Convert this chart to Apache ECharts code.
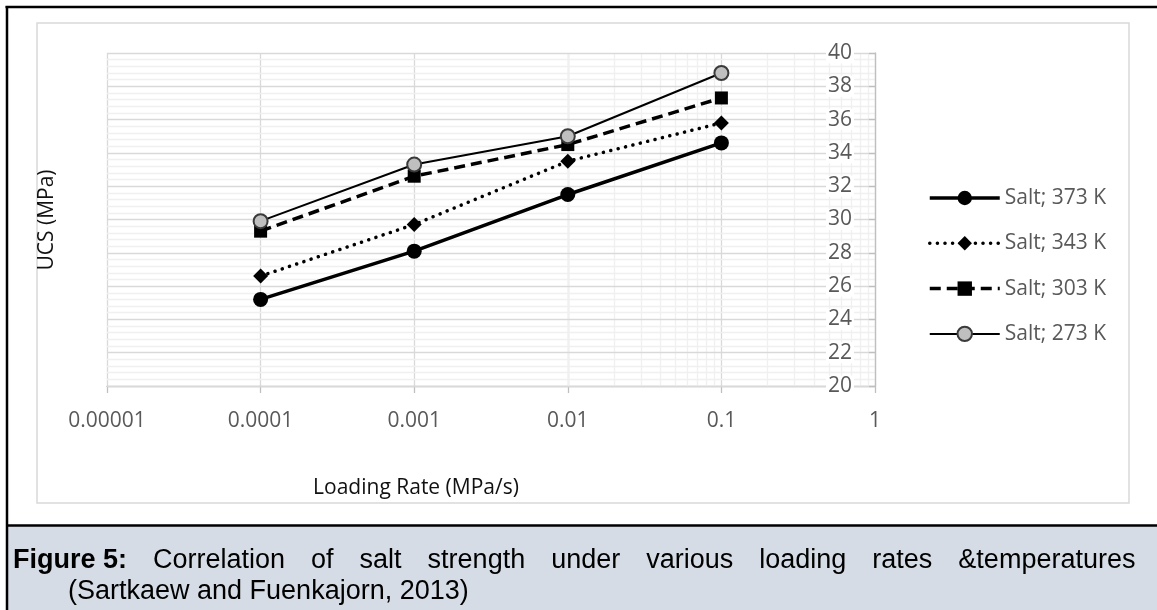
<!DOCTYPE html>
<html>
<head>
<meta charset="utf-8">
<title>UCS of salt vs loading rate</title>
<script src="https://cdn.jsdelivr.net/npm/echarts@6/dist/echarts.min.js"></script>
<style>
  html, body { margin: 0; padding: 0; background: #fff; }
  #chart { width: 1157px; height: 610px; }
</style>
</head>
<body>
<div id="chart"></div>
<script>
// Loading rates (MPa/s) at which the specimens were tested
const loadingRates = [0.0001, 0.001, 0.01, 0.1];

// Uniaxial compressive strength (MPa) per test temperature
const ucs373K = [25.2, 28.1, 31.5, 34.6];
const ucs343K = [26.6, 29.7, 33.5, 35.8];
const ucs303K = [29.3, 32.6, 34.5, 37.3];
const ucs273K = [29.9, 33.3, 35.0, 38.8];

const seriesNames = ['Salt; 373 K', 'Salt; 343 K', 'Salt; 303 K', 'Salt; 273 K'];

// Axis tick labels
const xTickLabels = ['0.00001', '0.0001', '0.001', '0.01', '0.1', '1'];

// Caption words (first line is set justified, second line plain)
const captionLead = 'Figure 5:';
const captionWords = ['Correlation', 'of', 'salt', 'strength', 'under', 'various', 'loading', 'rates', '&temperatures'];
const captionLine2 = '(Sartkaew and Fuenkajorn, 2013)';

const FONT = '"Open Sans", "Noto Sans", sans-serif';
const CAPTION_FONT = '"Liberation Sans", Arial, sans-serif';

// Logarithmic minor gridline positions (2..9 within each decade)
const minorX = [];
for (let d = -5; d <= -1; d++) {
  for (let k = 2; k <= 9; k++) minorX.push(k * Math.pow(10, d));
}

function pairs(ys) {
  return loadingRates.map((x, i) => [x, ys[i]]);
}

const chart = echarts.init(document.getElementById('chart'), null, { renderer: 'canvas' });

chart.setOption({
  backgroundColor: '#ffffff',
  animation: false,
  textStyle: { fontFamily: FONT },
  grid: { left: 107, top: 53, width: 768, height: 333 },
  xAxis: {
    type: 'log',
    logBase: 10,
    min: 0.00001,
    max: 1,
    z: 0,
    axisLine: { lineStyle: { color: '#bfbfbf', width: 1.3 } },
    axisTick: { show: true, length: 7, lineStyle: { color: '#bfbfbf', width: 1.3 } },
    axisLabel: {
      color: '#595959',
      fontSize: 21,
      fontFamily: FONT,
      margin: 25,
      formatter: (v, i) => xTickLabels[i]
    },
    splitLine: { show: true, lineStyle: { color: '#d9d9d9', width: 1.3 } }
  },
  yAxis: {
    type: 'value',
    position: 'right',
    min: 20,
    max: 40,
    interval: 2,
    z: 2,
    axisLine: { show: true, lineStyle: { color: '#bfbfbf', width: 1.3 } },
    axisTick: { show: true, inside: true, length: 6, lineStyle: { color: '#bfbfbf', width: 1.3 } },
    axisLabel: {
      inside: true,
      color: '#595959',
      fontSize: 21,
      fontFamily: FONT,
      margin: 21,
      backgroundColor: '#ffffff',
      padding: [0, 2, 0, 2]
    },
    splitLine: { show: true, lineStyle: { color: '#d9d9d9', width: 1.3 } },
    minorTick: { show: false, splitNumber: 5 },
    minorSplitLine: { show: true, lineStyle: { color: '#f0f0f0', width: 1.3 } }
  },
  legend: {
    orient: 'vertical',
    left: 923,
    top: 182,
    itemWidth: 70,
    itemHeight: 18,
    itemGap: 23.3,
    lineStyle: { width: 'inherit', type: 'inherit' },
    textStyle: { color: '#595959', fontSize: 21, fontFamily: FONT, lineHeight: 22 },
    data: seriesNames
  },
  series: [
    {
      // vertical minor gridlines of the log axis
      type: 'line',
      data: [],
      silent: true,
      markLine: {
        silent: true,
        z: 1,
        symbol: ['none', 'none'],
        label: { show: false },
        lineStyle: { color: '#f0f0f0', width: 1.3, type: 'solid' },
        data: minorX.map(v => ({ xAxis: v }))
      }
    },
    {
      name: seriesNames[0],
      type: 'line',
      z: 5,
      data: pairs(ucs373K),
      symbol: 'circle',
      symbolSize: 15,
      lineStyle: { color: '#000', width: 3.5 },
      itemStyle: { color: '#000', borderColor: '#000', borderWidth: 0 }
    },
    {
      name: seriesNames[1],
      type: 'line',
      z: 4,
      data: pairs(ucs343K),
      symbol: 'diamond',
      symbolSize: 15,
      lineStyle: { color: '#000', width: 3.5, type: [0.1, 7.5], cap: 'round' },
      itemStyle: { color: '#000', borderWidth: 0 }
    },
    {
      name: seriesNames[2],
      type: 'line',
      z: 3,
      data: pairs(ucs303K),
      symbol: 'rect',
      symbolSize: 13,
      lineStyle: { color: '#000', width: 3.5, type: [11, 6] },
      itemStyle: { color: '#000', borderWidth: 0 }
    },
    {
      name: seriesNames[3],
      type: 'line',
      z: 6,
      data: pairs(ucs273K),
      symbol: 'circle',
      symbolSize: 14,
      lineStyle: { color: '#000', width: 2 },
      itemStyle: { color: '#bfbfbf', borderColor: '#3a3a3a', borderWidth: 2 }
    }
  ],
  graphic: [
    // chart area frame
    {
      type: 'rect', z: -1, silent: true,
      shape: { x: 37, y: 23, width: 1092, height: 480 },
      style: { fill: null, stroke: '#d9d9d9', lineWidth: 1.5 }
    },
    // axis titles
    {
      type: 'text', silent: true,
      x: 47, y: 220, rotation: Math.PI / 2,
      style: {
        text: 'UCS (MPa)', fill: '#111', font: '21px ' + FONT,
        align: 'center', verticalAlign: 'middle'
      }
    },
    {
      type: 'text', silent: true,
      x: 416, y: 488,
      style: {
        text: 'Loading Rate (MPa/s)', fill: '#111', font: '21px ' + FONT,
        align: 'center', verticalAlign: 'middle'
      }
    },
    // caption panel
    {
      type: 'rect', silent: true,
      shape: { x: 7, y: 525, width: 1150, height: 85 },
      style: { fill: '#d6dce5' }
    },
    {
      type: 'line', silent: true,
      shape: { x1: 6, y1: 525.5, x2: 1157, y2: 525.5 },
      style: { stroke: '#000', lineWidth: 2.5 }
    },
    {
      type: 'line', silent: true,
      shape: { x1: 5.5, y1: 7, x2: 1157, y2: 7 },
      style: { stroke: '#000', lineWidth: 2.5 }
    },
    {
      type: 'line', silent: true,
      shape: { x1: 7, y1: 6, x2: 7, y2: 610 },
      style: { stroke: '#000', lineWidth: 2.5 }
    },
    {
      type: 'text', silent: true,
      x: 13, y: 561,
      style: {
        text: '{b|' + captionLead + '}{s| }' +
          captionWords.map(w => '{n|' + w + '}').join('{s| }'),
        verticalAlign: 'middle',
        rich: {
          b: { font: 'bold 27px ' + CAPTION_FONT, fill: '#000' },
          n: { font: '27px ' + CAPTION_FONT, fill: '#000' },
          s: { font: '27px ' + CAPTION_FONT, fill: '#000', width: 26 }
        }
      }
    },
    {
      type: 'text', silent: true,
      x: 68, y: 592,
      style: {
        text: captionLine2,
        font: '27px ' + CAPTION_FONT, fill: '#000', verticalAlign: 'middle'
      }
    }
  ]
});
</script>
</body>
</html>
